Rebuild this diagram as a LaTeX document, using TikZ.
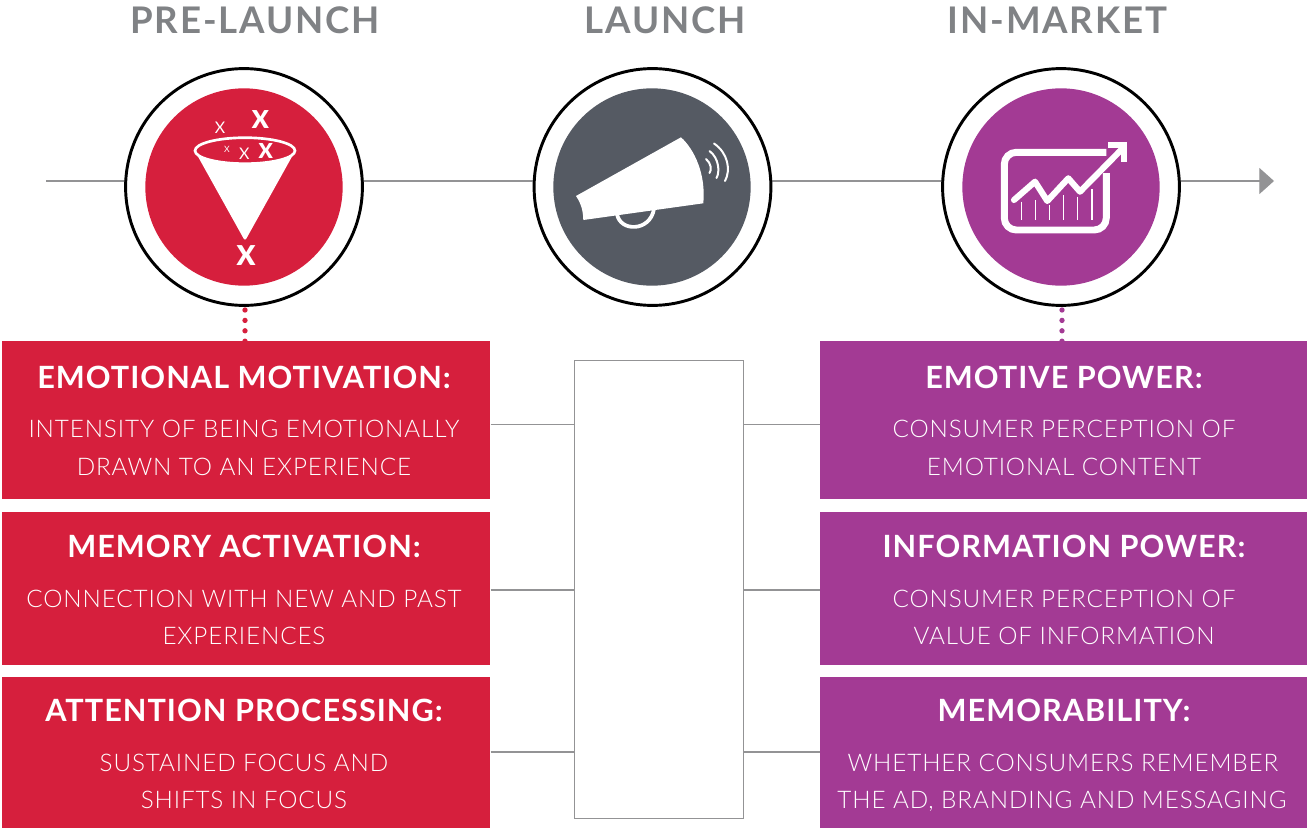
\documentclass[tikz,border=0pt]{standalone}
\usepackage{fontspec}
\usetikzlibrary{arrows.meta,backgrounds}
\setmainfont{Lato}
\newfontfamily\headfont[LetterSpace=5]{Lato Bold}
\newfontfamily\titlefont[LetterSpace=3.3]{Lato Bold}
\newfontfamily\bodyfont[LetterSpace=3.6]{Lato Light}
\newfontfamily\xbold{Lato Black}
\newfontfamily\xreg{Lato}
\definecolor{cred}{HTML}{D61F3D}
\definecolor{cpur}{HTML}{A33A94}
\definecolor{cslate}{HTML}{555A63}
\definecolor{cline}{HTML}{939395}
\definecolor{chead}{HTML}{808285}
\tikzset{
 ring/.style={circle,draw=black,line width=2.2pt,fill=white,minimum size=177.6pt,inner sep=0pt},
 disc/.style={circle,fill=#1,minimum size=148pt,inner sep=0pt},
 headtxt/.style={anchor=base,text=chead,font=\headfont\fontsize{27.5pt}{30pt}\selectfont,inner sep=0pt},
 titletxt/.style={anchor=base,text=white,font=\titlefont\fontsize{23pt}{26pt}\selectfont,inner sep=0pt},
 bodytxt/.style={anchor=base,text=white,font=\bodyfont\fontsize{18.2pt}{20pt}\selectfont,inner sep=0pt},
 panel/.style={anchor=north west,fill=#1,inner sep=0pt,minimum width=366pt},
 conn/.style={draw=cline,line width=0.9pt},
 dots/.style={draw=#1,line width=4pt,line cap=round,dash pattern=on 0pt off 7.8pt},
 xm/.style={text=white,inner sep=0pt},
}
\begin{document}
\begin{tikzpicture}[x=0.75pt,y=-0.75pt]
\useasboundingbox (0,0) rectangle (1307,828);
\coordinate (start) at (46,181);
\coordinate (end) at (1274,181);
% circles
\node[ring] (c1) at (244,187) {};
\node[ring] (c2) at (652.5,187) {};
\node[ring] (c3) at (1061,187) {};
\node[disc=cred] (d1) at (244,187) {};
\node[disc=cslate] (d2) at (652,187) {};
\node[disc=cpur] (d3) at (1061,187) {};
% headings
\node[headtxt] (h1) at (255,33) {PRE-LAUNCH};
\node[headtxt] (h2) at (665,33) {LAUNCH};
\node[headtxt] (h3) at (1057.5,33) {IN-MARKET};
% panels
\node[panel=cred,minimum height=118.5pt] (r1) at (2,341) {};
\node[panel=cred,minimum height=114.75pt] (r2) at (2,512) {};
\node[panel=cred,minimum height=113.25pt] (r3) at (2,677) {};
\node[panel=cpur,minimum height=118.5pt,minimum width=365.25pt] (p1) at (820,341) {};
\node[panel=cpur,minimum height=114.75pt,minimum width=365.25pt] (p2) at (820,512) {};
\node[panel=cpur,minimum height=113.25pt,minimum width=365.25pt] (p3) at (820,677) {};
\node[anchor=north west,draw=cline,line width=0.75pt,fill=white,minimum width=126.75pt,minimum height=343.5pt,inner sep=0pt] (mid) at (574,360) {};
% connectors
\begin{scope}[on background layer]
\draw[conn] (start) -- (start -| c1.center);
\draw[conn] (start -| c1.center) -- (start -| c2.center);
\draw[conn] (start -| c2.center) -- (start -| c3.center);
\draw[conn,-{Triangle[length=11pt,width=19.5pt]}] (start -| c3.center) -- (end);
\draw[conn] (r1.east |- 0,424.5) -- (mid.west |- 0,424.5);
\draw[conn] (r2.east |- 0,590) -- (mid.west |- 0,590);
\draw[conn] (r3.east |- 0,752) -- (mid.west |- 0,752);
\draw[conn] (mid.east |- 0,424.5) -- (p1.west |- 0,424.5);
\draw[conn] (mid.east |- 0,590) -- (p2.west |- 0,590);
\draw[conn] (mid.east |- 0,752) -- (p3.west |- 0,752);
\draw[dots=cred] (245,310) -- ([yshift=-2pt]r1.north -| 245,0);
\draw[dots=cpur] (1062,310) -- ([yshift=-2pt]p1.north -| 1062,0);
\end{scope}
% funnel icon
\draw[white,line width=2pt] (245,150.7) ellipse [x radius=50,y radius=13];
\fill[white,rounded corners=2pt] (196,153) .. controls (215,166) and (275,166) .. (294,153) -- (245,241) -- cycle;
\node[xm,font=\xbold\fontsize{18.5pt}{20pt}\selectfont] (x1) at (260.3,119.3) {X};
\node[xm,font=\xreg\fontsize{12pt}{14pt}\selectfont] (x2) at (220,128) {X};
\node[xm,font=\xreg\fontsize{6.5pt}{8pt}\selectfont] (x3) at (227,149) {X};
\node[xm,font=\xreg\fontsize{12pt}{14pt}\selectfont] (x4) at (244.3,154) {X};
\node[xm,font=\xbold\fontsize{15.5pt}{18pt}\selectfont] (x5) at (265.7,151) {X};
\node[xm,font=\xbold\fontsize{20.5pt}{22pt}\selectfont] (x6) at (246,255.7) {X};
% megaphone icon
\draw[white,line width=2.8pt] (617,214) .. controls (620,232) and (650,232) .. (654,209);
\fill[white] (576,196) -- (681,137.3) .. controls (695,150) and (706,175) .. (703.3,203.3) -- (583.3,220) .. controls (583,212) and (582,205) .. (576,196) -- cycle;
\draw[white,line width=1.5pt,line cap=round] (706,159) .. controls (711,163) and (712,170) .. (709.5,173);
\draw[white,line width=1.5pt,line cap=round] (709.5,151) .. controls (719,158) and (720,172) .. (716.5,178);
\draw[white,line width=1.5pt,line cap=round] (714,143.5) .. controls (728,153) and (731,170) .. (725,181);
% chart icon
\draw[white,line width=5.2pt,rounded corners=9pt] (1106.3,173) -- (1106.3,230) -- (1004.3,230) -- (1004.3,152.3) -- (1106.3,152.3);
\draw[white,line width=4.6pt,line cap=round,line join=round] (1014,200) -- (1035,181.7) -- (1047.3,201) -- (1068.3,178.3) -- (1080,191.7) -- (1122,149);
\draw[white,line width=4.6pt,line join=miter] (1108.3,144.7) -- (1124.3,144.7) -- (1124.3,161.7);
\foreach \bx/\by in {1021.7/201.7,1035.3/200,1049.3/205,1063.7/195,1077.7/196.7,1092/189.3}
  \draw[white,line width=1.1pt] (\bx,\by) -- (\bx,220);
% panel text
\node[titletxt] (t1) at (244,388) {EMOTIONAL MOTIVATION:};
\node[bodytxt] (b1a) at (244,437) {INTENSITY OF BEING EMOTIONALLY};
\node[bodytxt] (b1b) at (244,475) {DRAWN TO AN EXPERIENCE};
\node[titletxt] (t2) at (244,557) {MEMORY ACTIVATION:};
\node[bodytxt] (b2a) at (244,607) {CONNECTION WITH NEW AND PAST};
\node[bodytxt] (b2b) at (244,644) {EXPERIENCES};
\node[titletxt] (t3) at (244,721) {ATTENTION PROCESSING:};
\node[bodytxt] (b3a) at (244,771) {SUSTAINED FOCUS AND};
\node[bodytxt] (b3b) at (244,808) {SHIFTS IN FOCUS};
\node[titletxt] (t4) at (1064,388) {EMOTIVE POWER:};
\node[bodytxt] (b4a) at (1064,437) {CONSUMER PERCEPTION OF};
\node[bodytxt] (b4b) at (1064,475) {EMOTIONAL CONTENT};
\node[titletxt] (t5) at (1064,557) {INFORMATION POWER:};
\node[bodytxt] (b5a) at (1064,607) {CONSUMER PERCEPTION OF};
\node[bodytxt] (b5b) at (1064,644) {VALUE OF INFORMATION};
\node[titletxt] (t6) at (1064,721) {MEMORABILITY:};
\node[bodytxt] (b6a) at (1063,771) {WHETHER CONSUMERS REMEMBER};
\node[bodytxt] (b6b) at (1062,808) {THE AD, BRANDING AND MESSAGING};
\end{tikzpicture}
\end{document}
